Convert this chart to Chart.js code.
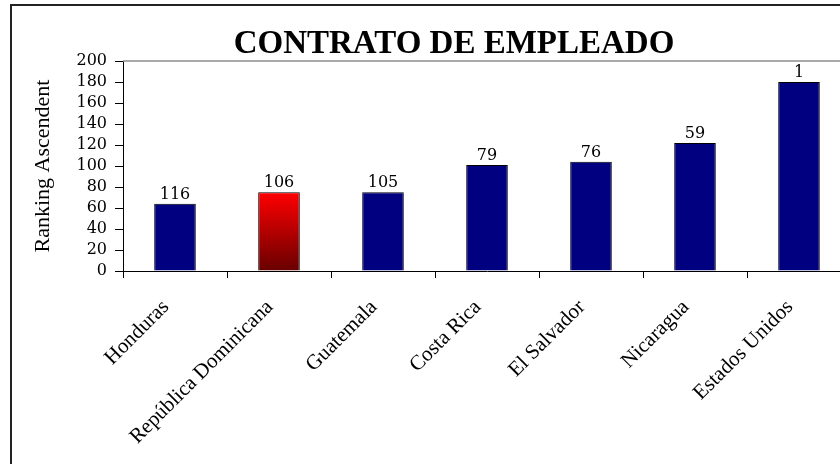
<!DOCTYPE html>
<html>
<head>
<meta charset="utf-8">
<script src="https://cdn.jsdelivr.net/npm/chart.js@4"></script>
<style>
    body { margin: 0; background: #fff; overflow: hidden; width: 840px; height: 464px; position: relative; }
    #frame { position: absolute; left: 10px; top: 4px; width: 900px; height: 520px; border: 2px solid #222; box-sizing: border-box; }
    #wrap { position: absolute; left: 12px; top: 6px; width: 884px; height: 458px; }
</style>
</head>
<body>
<div id="frame"></div>
<div id="wrap"><canvas id="myChart"></canvas></div>
<script>
const chartTitle = 'CONTRATO DE EMPLEADO';
const axisTitle = 'Ranking Ascendent';

const countries = ['Honduras', 'República Dominicana', 'Guatemala', 'Costa Rica', 'El Salvador', 'Nicaragua', 'Estados Unidos'];
const rankingValues = [64, 75, 75, 101, 104, 122, 180];
const rankLabels = ['116', '106', '105', '79', '76', '59', '1'];
const highlightIndex = 1;

const yTicks = { min: 0, max: 200, step: 20 };

// red bar fades to dark red at the bottom
function barColor(context) {
    if (context.dataIndex !== highlightIndex) return '#000080';
    const chart = context.chart;
    const yScale = chart.scales.y;
    if (!chart.chartArea || !yScale) return '#cc0000';
    const top = yScale.getPixelForValue(rankingValues[context.dataIndex]);
    const bottom = yScale.getPixelForValue(0);
    const g = chart.ctx.createLinearGradient(0, top, 0, bottom);
    g.addColorStop(0, '#ff0000');
    g.addColorStop(1, '#680000');
    return g;
}

const frameTitle = {
    id: 'frameTitle',
    afterDraw(chart) {
        const ctx = chart.ctx;
        ctx.save();
        ctx.font = 'bold 33px "Liberation Serif"';
        ctx.fillStyle = '#000';
        ctx.textAlign = 'center';
        ctx.textBaseline = 'alphabetic';
        ctx.fillText(chartTitle, chart.width / 2, chart.chartArea.top - 8);
        ctx.restore();
    }
};

const plotTopLine = {
    id: 'plotTopLine',
    beforeDatasetsDraw(chart) {
        const { ctx, chartArea } = chart;
        ctx.save();
        ctx.strokeStyle = '#8c8c8c';
        ctx.lineWidth = 1.5;
        ctx.beginPath();
        ctx.moveTo(chartArea.left, chartArea.top);
        ctx.lineTo(chartArea.right + 20, chartArea.top);
        ctx.stroke();
        ctx.restore();
    }
};

const rankText = {
    id: 'rankText',
    afterDatasetsDraw(chart) {
        const ctx = chart.ctx;
        const meta = chart.getDatasetMeta(0);
        ctx.save();
        ctx.font = '16px "DejaVu Serif"';
        ctx.fillStyle = '#000';
        ctx.textAlign = 'center';
        ctx.textBaseline = 'bottom';
        meta.data.forEach((bar, i) => {
            ctx.fillText(rankLabels[i], bar.x, bar.y - 1);
        });
        ctx.restore();
    }
};

function createChart() {
    const ctx = document.getElementById('myChart').getContext('2d');

    new Chart(ctx, {
        type: 'bar',
        data: {
            labels: countries,
            datasets: [{
                data: rankingValues,
                backgroundColor: barColor,
                borderColor: '#000',
                borderWidth: 1,
                barPercentage: 0.4,
                categoryPercentage: 1.0
            }]
        },
        options: {
            responsive: true,
            maintainAspectRatio: false,
            animation: false,
            layout: {
                padding: { left: 17, right: 45, top: 55, bottom: 3 }
            },
            scales: {
                x: {
                    grid: {
                        offset: true,
                        drawOnChartArea: false,
                        drawTicks: true,
                        tickLength: 7,
                        color: '#000'
                    },
                    border: { display: true, color: '#000', width: 1 },
                    ticks: {
                        autoSkip: false,
                        minRotation: 45,
                        maxRotation: 45,
                        padding: 17,
                        labelOffset: -9,
                        color: '#000',
                        font: { family: '"Liberation Serif"', size: 21 }
                    },
                    afterFit: scale => { scale.height = 190; }
                },
                y: {
                    min: yTicks.min,
                    max: yTicks.max,
                    grid: {
                        drawOnChartArea: false,
                        drawTicks: true,
                        tickLength: 8,
                        color: '#000'
                    },
                    border: { display: true, color: '#000', width: 1 },
                    ticks: {
                        stepSize: yTicks.step,
                        autoSkip: false,
                        padding: 8,
                        color: '#000',
                        font: { family: '"DejaVu Serif"', size: 16, lineHeight: 1 }
                    },
                    title: {
                        display: true,
                        text: axisTitle,
                        color: '#000',
                        padding: { top: 1, bottom: 0 },
                        font: { family: '"Liberation Serif"', size: 22 }
                    },
                    afterFit: scale => { scale.width = 94; }
                }
            },
            plugins: {
                legend: { display: false },
                title: { display: false },
                tooltip: { enabled: false }
            }
        },
        plugins: [plotTopLine, rankText, frameTitle]
    });
}

document.addEventListener('DOMContentLoaded', createChart);
</script>
</body>
</html>
